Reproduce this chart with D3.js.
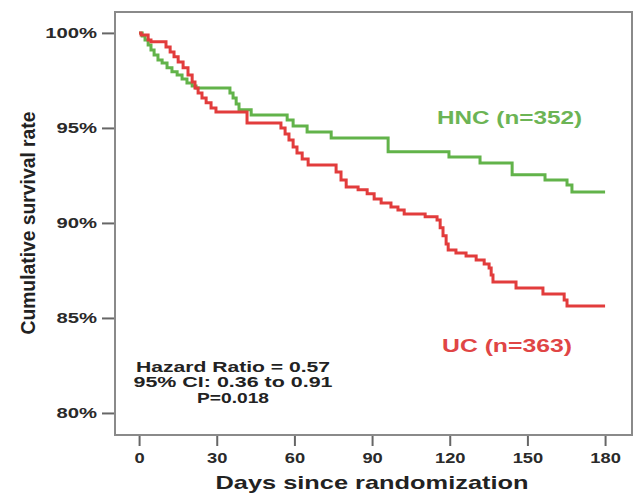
<!DOCTYPE html>
<html lang="en">
<head>
  <meta charset="UTF-8">
  <title>Cumulative survival - HNC vs UC</title>
  <script src="https://d3js.org/d3.v7.min.js"></script>
  <style>
    body { margin: 0; background: #fff; }
    text { font-family: "Liberation Sans", Arial, sans-serif; font-weight: bold; }
    .axis text { fill: #2a2a2a; }
    .axis line { stroke: #666; stroke-width: 2; }
  </style>
</head>
<body>
  <div id="chart"></div>

  <script>
    // Kaplan-Meier steps (day, survival % after the event)
    const hncDays = [0, 1.2, 2.3, 3.5, 4.6, 5.8, 7.3, 8.9, 10.8, 12.7, 14.7, 16.6, 18.5, 20.5, 22.0,
      35.1, 36.3, 37.5, 38.6, 43.3, 57.2, 59.5, 64.9, 74.2, 96.2, 119.7, 131.7, 144.1, 156.8, 165.3, 167.2, 180];
    const hncSurv = [100, 99.84, 99.63, 99.37, 99.1, 98.84, 98.58, 98.42, 98.16, 97.95, 97.79, 97.58, 97.37, 97.21, 97.1,
      96.84, 96.58, 96.26, 95.95, 95.68, 95.42, 95.1, 94.79, 94.47, 93.74, 93.47, 93.16, 92.53, 92.26, 92.0, 91.63, 91.63];

    const ucDays = [0, 0.8, 3.5, 4.6, 10.4, 12.0, 13.5, 15.1, 17.0, 18.9, 20.5, 21.6, 22.8, 24.3, 25.9, 27.8, 29.7,
      41.7, 54.8, 56.4, 57.9, 59.5, 61.0, 63.0, 65.3, 76.1, 78.0, 80.0, 84.6, 88.1, 90.8, 93.5, 97.3, 100.0, 102.4,
      110.5, 115.1, 116.3, 117.4, 118.6, 119.4, 122.4, 126.3, 130.2, 133.3, 135.2, 136.0, 136.7, 145.6, 156.0, 164.2, 165.3, 180];
    const ucSurv = [100, 99.89, 99.63, 99.53, 99.26, 99.0, 98.74, 98.47, 98.16, 97.79, 97.42, 97.1, 96.84, 96.58, 96.32, 96.05, 95.84,
      95.26, 95.0, 94.68, 94.37, 94.0, 93.68, 93.37, 93.05, 92.68, 92.26, 91.89, 91.74, 91.53, 91.26, 91.05, 90.84, 90.68, 90.47,
      90.32, 90.16, 89.74, 89.32, 88.89, 88.58, 88.42, 88.26, 88.05, 87.84, 87.63, 87.26, 86.89, 86.58, 86.26, 85.95, 85.63, 85.63];

    const xTicks = [0, 30, 60, 90, 120, 150, 180];
    const yTicks = [80, 85, 90, 95, 100];
    const statsLines = ["Hazard Ratio = 0.57", "95% CI: 0.36 to 0.91", "P=0.018"];

    const W = 638, H = 493;
    const plot = { left: 115, right: 632, top: 12, bottom: 435 };

    const svg = d3.select("#chart").append("svg")
      .attr("width", W)
      .attr("height", H);

    svg.append("rect").attr("width", W).attr("height", H).attr("fill", "#fff");

    const x = d3.scaleLinear().domain([-9.3, 190.4]).range([plot.left, plot.right]);
    const y = d3.scaleLinear().domain([78.84, 101.1]).range([plot.bottom, plot.top]);

    // stretch text horizontally like the source picture
    function stretch(sel, k) {
      sel.each(function() {
        const w = this.getComputedTextLength();
        d3.select(this).attr("textLength", w * k).attr("lengthAdjust", "spacingAndGlyphs");
      });
    }

    // y axis
    const yAxis = svg.append("g")
      .attr("class", "axis")
      .attr("transform", "translate(" + plot.left + ",0)")
      .call(d3.axisLeft(y).tickValues(yTicks).tickFormat(d => d + "%").tickSize(13).tickPadding(5));
    yAxis.select(".domain").remove();
    yAxis.selectAll("text").attr("font-size", 15).attr("font-family", null);
    stretch(yAxis.selectAll("text"), 1.35);

    // x axis
    const xAxis = svg.append("g")
      .attr("class", "axis")
      .attr("transform", "translate(0," + plot.bottom + ")")
      .call(d3.axisBottom(x).tickValues(xTicks).tickSize(11).tickPadding(6));
    xAxis.select(".domain").remove();
    xAxis.selectAll("text").attr("font-size", 15).attr("font-family", null);
    stretch(xAxis.selectAll("text"), 1.22);

    // frame
    svg.append("rect")
      .attr("x", plot.left)
      .attr("y", plot.top)
      .attr("width", plot.right - plot.left)
      .attr("height", plot.bottom - plot.top)
      .attr("fill", "none")
      .attr("stroke", "#8a8a8a")
      .attr("stroke-width", 2);

    // survival curves
    const line = d3.line()
      .x(d => x(d[0]))
      .y(d => y(d[1]))
      .curve(d3.curveStepAfter);

    svg.append("path")
      .datum(hncDays.map((d, i) => [d, hncSurv[i]]))
      .attr("fill", "none")
      .attr("stroke", "#62b34a")
      .attr("stroke-width", 3)
      .attr("d", line);

    svg.append("path")
      .datum(ucDays.map((d, i) => [d, ucSurv[i]]))
      .attr("fill", "none")
      .attr("stroke", "#e23c3c")
      .attr("stroke-width", 3)
      .attr("d", line);

    // group labels
    svg.append("text")
      .attr("x", 437).attr("y", 124)
      .attr("font-size", 18)
      .attr("fill", "#6cb455")
      .attr("textLength", 145).attr("lengthAdjust", "spacingAndGlyphs")
      .text("HNC (n=352)");

    svg.append("text")
      .attr("x", 442).attr("y", 352)
      .attr("font-size", 18)
      .attr("fill", "#e04545")
      .attr("textLength", 130).attr("lengthAdjust", "spacingAndGlyphs")
      .text("UC (n=363)");

    // hazard ratio box
    const statY = [372, 387, 403];
    const statW = [194, 199, 72];
    svg.selectAll(".stat")
      .data(statsLines)
      .enter()
      .append("text")
      .attr("class", "stat")
      .attr("x", 233)
      .attr("y", (d, i) => statY[i])
      .attr("font-size", 14)
      .attr("fill", "#222")
      .style("text-anchor", "middle")
      .attr("textLength", (d, i) => statW[i]).attr("lengthAdjust", "spacingAndGlyphs")
      .text(d => d);

    // axis titles
    svg.append("text")
      .attr("x", 372).attr("y", 489)
      .attr("font-size", 19)
      .attr("fill", "#222")
      .style("text-anchor", "middle")
      .attr("textLength", 313).attr("lengthAdjust", "spacingAndGlyphs")
      .text("Days since randomization");

    svg.append("text")
      .attr("transform", "translate(35,223) rotate(-90)")
      .attr("font-size", 20)
      .attr("fill", "#222")
      .style("text-anchor", "middle")
      .attr("textLength", 223).attr("lengthAdjust", "spacingAndGlyphs")
      .text("Cumulative survival rate");
  </script>
</body>
</html>
